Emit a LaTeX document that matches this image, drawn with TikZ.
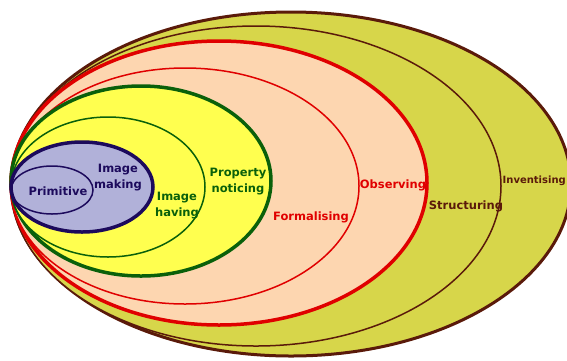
\documentclass[tikz,border=0pt]{standalone}
\usepackage{fontspec}
\setmainfont{DejaVu Sans}
\usepackage{tikz}
\definecolor{Olive}{HTML}{D7D64A}
\definecolor{Peach}{HTML}{FDD6B0}
\definecolor{Lemon}{HTML}{FFFF4F}
\definecolor{Lilac}{HTML}{B1B1D9}
\definecolor{Umber}{HTML}{5A1A0A}
\definecolor{Scarlet}{HTML}{E00000}
\definecolor{Forest}{HTML}{0A600A}
\definecolor{Navy}{HTML}{1C0A5C}

\begin{document}
\begin{tikzpicture}[x=1pt, y=-1pt,
    lbl/.style={font=\fontsize{11.5}{16}\selectfont\bfseries, align=center, inner sep=0pt}]
    \useasboundingbox (0,0) rectangle (567,360);
    \draw[fill=Olive, draw=Umber, line width=3pt] (291,184) ellipse [x radius=280pt, y radius=172pt];
    \draw[fill=Olive, draw=Umber, line width=1.5pt] (256,186) ellipse [x radius=245pt, y radius=160pt];
    \draw[fill=Peach, draw=Scarlet, line width=3.5pt] (219,183) ellipse [x radius=208pt, y radius=142pt];
    \draw[fill=Peach, draw=Scarlet, line width=1.5pt] (185,186) ellipse [x radius=174pt, y radius=118pt];
    \draw[fill=Lemon, draw=Forest, line width=3.5pt] (141,181) ellipse [x radius=130pt, y radius=95pt];
    \draw[fill=Lemon, draw=Forest, line width=1.5pt] (108,187) ellipse [x radius=97pt, y radius=70pt];
    \draw[fill=Lilac, draw=Navy, line width=3.5pt] (82,187) ellipse [x radius=71pt, y radius=45pt];
    \draw[draw=Navy, line width=1.5pt] (52,190) ellipse [x radius=41pt, y radius=24pt];
    \node[lbl, text=Navy] (prim) at (58,191) {Primitive};
    \node[lbl, text=Navy] (imak) at (118,178) {Image\\making};
    \node[lbl, text=Forest] (ihav) at (177,206) {Image\\having};
    \node[lbl, text=Forest] (prop) at (238,182) {Property\\noticing};
    \node[lbl, text=Scarlet] (form) at (311,217) {Formalising};
    \node[lbl, text=Scarlet] (obs) at (393,185) {Observing};
    \node[lbl, text=Umber] (struc) at (466,206) {Structuring};
    \node[lbl, text=Umber, anchor=east, font=\fontsize{10}{12}\selectfont\bfseries] (inv) at (566,181) {Inventising};
\end{tikzpicture}
\end{document}
